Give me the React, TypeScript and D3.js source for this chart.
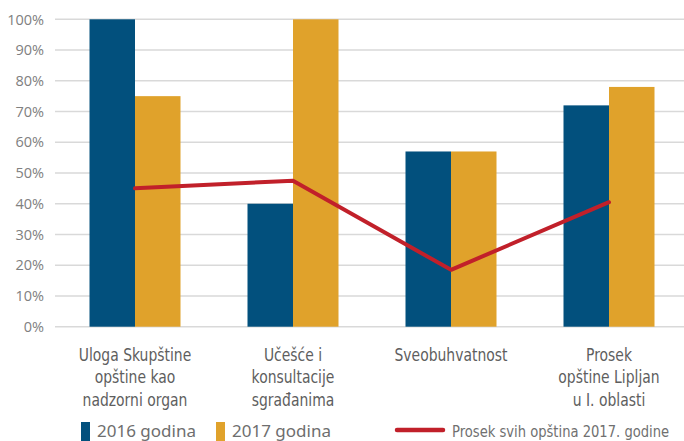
import React, { useRef, useEffect } from 'react';
import * as d3 from 'd3';

const categories = [
  ['Uloga Skupštine', 'opštine kao', 'nadzorni organ'],
  ['Učešće i', 'konsultacije', 'sgrađanima'],
  ['Sveobuhvatnost'],
  ['Prosek', 'opštine Lipljan', 'u I. oblasti'],
];
const series = ['2016 godina', '2017 godina'];
const values2016 = [100, 40, 57, 72];
const values2017 = [75, 100, 57, 78];
const average2017 = [45, 47.5, 18.5, 40.5];
const yTicks = [0, 10, 20, 30, 40, 50, 60, 70, 80, 90, 100];
const lineLabel = 'Prosek svih opština 2017. godine';

const colors = ['#02507d', '#e0a22b'];
const lineColor = '#c1202a';
const narrowFont = 'DejaVu Sans, sans-serif';
const squeeze = 0.82; // no condensed face installed, so squeeze horizontally

const App = () => {
  const svgRef = useRef<SVGSVGElement>(null);
  const width = 684;
  const height = 441;

  useEffect(() => {
    const svg = d3.select(svgRef.current);
    svg.selectAll('*').remove();

    const keys = categories.map((c) => c.join(' '));
    const x0 = d3.scaleBand().domain(keys).range([56, 688]).padding(0);
    const x1 = d3.scaleBand().domain(series).range([33.5, 124.5]).padding(0);
    const y = d3.scaleLinear().domain([0, 100]).range([326.7, 19.3]);

    // grid
    svg
      .append('g')
      .selectAll('line')
      .data(yTicks)
      .join('line')
      .attr('x1', 55)
      .attr('x2', width)
      .attr('y1', (d) => y(d))
      .attr('y2', (d) => y(d))
      .attr('stroke', '#d9d9d9')
      .attr('stroke-width', 1.5);

    svg
      .append('g')
      .selectAll('text')
      .data(yTicks)
      .join('text')
      .attr('x', 44)
      .attr('y', (d) => y(d))
      .attr('dy', '0.36em')
      .attr('text-anchor', 'end')
      .attr('font-family', 'Open Sans, sans-serif')
      .attr('font-size', 14.5)
      .attr('fill', '#808080')
      .text((d) => `${d}%`);

    const rows = keys.map((k, i) => ({ key: k, vals: [values2016[i], values2017[i]] }));
    svg
      .append('g')
      .selectAll('g')
      .data(rows)
      .join('g')
      .attr('transform', (d) => `translate(${x0(d.key)},0)`)
      .selectAll('rect')
      .data((d) => d.vals.map((v, j) => ({ s: series[j], v, j })))
      .join('rect')
      .attr('x', (d) => x1(d.s)!)
      .attr('y', (d) => y(d.v))
      .attr('width', x1.bandwidth())
      .attr('height', (d) => y(0) - y(d.v))
      .attr('fill', (d) => colors[d.j]);

    const cx = (i: number) => x0(keys[i])! + x0.bandwidth() / 2;
    const line = d3
      .line<number>()
      .x((_, i) => cx(i))
      .y((d) => y(d));
    svg
      .append('path')
      .attr('d', line(average2017))
      .attr('fill', 'none')
      .attr('stroke', lineColor)
      .attr('stroke-width', 4)
      .attr('stroke-linecap', 'round')
      .attr('stroke-linejoin', 'round');

    // category labels
    categories.forEach((lines, i) => {
      const t = svg
        .append('g')
        .attr('transform', `translate(${cx(i)},0) scale(${squeeze},1)`)
        .append('text')
        .attr('text-anchor', 'middle')
        .attr('font-family', narrowFont)
        .attr('font-size', 17)
        .attr('fill', '#5e5e5e');
      lines.forEach((l, j) => {
        t.append('tspan').attr('x', 0).attr('y', 361 + j * 22.5).text(l);
      });
    });

    // legend
    const leg = svg.append('g');
    const legX = [81, 216];
    series.forEach((s, i) => {
      leg
        .append('rect')
        .attr('x', legX[i])
        .attr('y', 422)
        .attr('width', 9)
        .attr('height', 19)
        .attr('fill', colors[i]);
      leg
        .append('text')
        .attr('x', legX[i] + 16)
        .attr('y', 437)
        .attr('font-family', 'Noto Sans, sans-serif')
        .attr('font-size', 17)
        .attr('font-weight', 400)
        .attr('fill', '#6e6e6e')
        .text(s);
    });
    leg
      .append('line')
      .attr('x1', 397)
      .attr('x2', 443)
      .attr('y1', 430)
      .attr('y2', 430)
      .attr('stroke', lineColor)
      .attr('stroke-width', 4.5)
      .attr('stroke-linecap', 'round');
    leg
      .append('g')
      .attr('transform', `translate(452,0) scale(${squeeze},1)`)
      .append('text')
      .attr('x', 0)
      .attr('y', 437)
      .attr('font-family', narrowFont)
      .attr('font-size', 16)
      .attr('fill', '#707070')
      .text(lineLabel);
  }, []);

  return (
    <div style={{ position: 'absolute', left: 0, top: 0 }}>
      <svg ref={svgRef} width={width} height={height} style={{ display: 'block' }}></svg>
    </div>
  );
};

export default App;
